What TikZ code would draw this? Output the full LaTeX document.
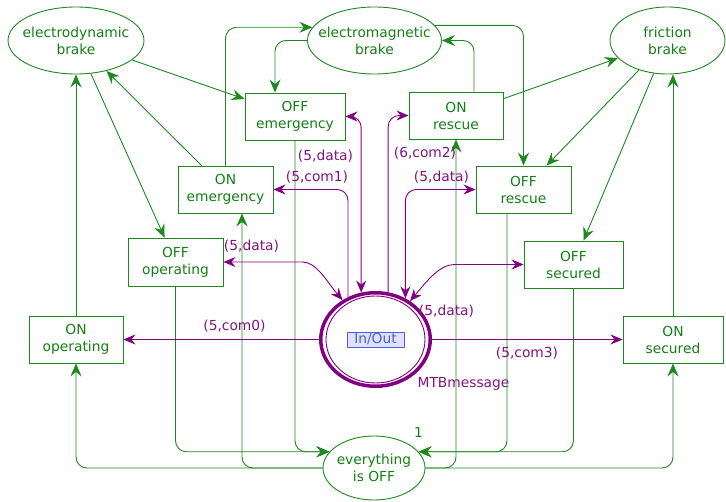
\documentclass[tikz,border=0pt]{standalone}
\usepackage{fontspec}
\setmainfont{DejaVu Sans}
\usetikzlibrary{shapes.geometric,arrows.meta}
\definecolor{gline}{RGB}{30,136,30}
\definecolor{gtext}{RGB}{20,128,20}
\definecolor{parc}{RGB}{128,0,128}
\definecolor{ptext}{RGB}{128,20,128}
\definecolor{iofill}{RGB}{222,226,255}
\definecolor{ioline}{RGB}{80,96,224}
\definecolor{iotext}{RGB}{80,96,200}
\begin{document}
\begin{tikzpicture}[x=1pt,y=1pt,
  font=\fontsize{13.8pt}{17pt}\selectfont,
  place/.style={ellipse, draw=gline, line width=0.9pt, inner sep=0pt},
  trans/.style={rectangle, draw=gline, line width=0.9pt, text=gtext, align=center, inner sep=0pt},
  garr/.style={draw=gline, line width=0.9pt, rounded corners=11pt,
    -{Stealth[length=13pt,width=11pt,inset=4.5pt]}},
  parr/.style={draw=parc, line width=0.9pt, rounded corners=11pt,
    -{Stealth[length=12pt,width=10pt,inset=4pt]}},
  pboth/.style={draw=parc, line width=0.9pt, rounded corners=11pt,
    {Stealth[length=12pt,width=10pt,inset=4pt]}-{Stealth[length=12pt,width=10pt,inset=4pt]}},
  plab/.style={text=ptext, inner sep=0pt},
  ptitle/.style={text=gtext, align=center}]

\useasboundingbox (0,0) rectangle (726,-502);

% brake places
\node[place, minimum width=136pt, minimum height=67pt,
  label={[ptitle]center:electrodynamic\\brake}] (edb) at (76,-40.5) {};
\node[place, minimum width=134pt, minimum height=67pt,
  label={[ptitle]center:electromagnetic\\brake}] (emb) at (374.5,-40.5) {};
\node[place, minimum width=115pt, minimum height=67pt,
  label={[ptitle]center:friction\\brake}] (fb) at (667.5,-40.5) {};
\node[place, minimum width=102pt, minimum height=64pt,
  label={[ptitle]center:everything\\is OFF}] (eio) at (374,-468) {};

% transitions
\node[trans, minimum width=100pt, minimum height=47pt] (OFFem) at (295,-116.5) {OFF\\emergency};
\node[trans, minimum width=95pt, minimum height=47pt] (ONem) at (225.5,-189.5) {ON\\emergency};
\node[trans, minimum width=95pt, minimum height=48pt] (OFFop) at (175.5,-262) {OFF\\operating};
\node[trans, minimum width=94pt, minimum height=47pt] (ONop) at (76,-339.5) {ON\\operating};
\node[trans, minimum width=94pt, minimum height=47pt] (ONres) at (456,-115.5) {ON\\rescue};
\node[trans, minimum width=95pt, minimum height=47pt] (OFFres) at (523.5,-189.5) {OFF\\rescue};
\node[trans, minimum width=99pt, minimum height=47pt] (OFFsec) at (573.5,-264.5) {OFF\\secured};
\node[trans, minimum width=100pt, minimum height=47pt] (ONsec) at (673,-339.5) {ON\\secured};

% message port place
\node[ellipse, draw=parc, line width=3.5pt, minimum width=109.5pt, minimum height=93.5pt,
  inner sep=0pt] (io) at (375.5,-339.5) {};
\draw[parc, line width=0.9pt] (io.center) ellipse [x radius=49.5pt, y radius=43.5pt];
\node[draw=ioline, fill=iofill, text=iotext, line width=0.8pt, minimum width=57pt,
  minimum height=15pt, inner sep=0pt] (iolab) at (io.center) {In/Out};
\node[plab] (iotype) at (463.5,-384) {MTBmessage};
\node[text=gtext, inner sep=0pt] (init) at (418.5,-432) {1};

% green arcs between brakes and transitions
\draw[garr] (edb) -- (OFFem);
\draw[garr] (ONem) -- (edb);
\draw[garr] (edb) -- (OFFop);
\draw[garr] (ONop) -- (edb);
\draw[garr] (ONem.north) |- (emb.168);
\draw[garr] (emb.west) -| ([xshift=-20pt]OFFem.north);
\draw[garr] ([xshift=18pt]ONres.north) |- (emb.east);
\draw[garr] (emb.14) -| (OFFres.north);
\draw[garr] (ONres) -- (fb);
\draw[garr] (fb) -- (OFFres);
\draw[garr] (fb) -- (OFFsec);
\draw[garr] (ONsec.north) -- (ONsec.north |- fb.south);

% green arcs around "everything is OFF"
\draw[garr] (eio.west) -| (ONop.south);
\draw[garr] (eio.east) -| (ONsec.south);
\draw[garr] (eio.west) -| ([xshift=16.5pt]ONem.south);
\draw[garr] (eio.east) -| (ONres.south);
\draw[garr] (OFFop.south) |- (eio.160);
\draw[garr] (OFFem.south) |- (eio.160);
\draw[garr] ([xshift=-16.5pt]OFFres.south) |- (eio.20);
\draw[garr] (OFFsec.south) |- (eio.20);

% purple arcs to and from the message port
\draw[parr] (io) -- (ONop);
\draw[parr] (io) -- (ONsec);
\draw[pboth] (OFFop.east) -- ([xshift=68pt]OFFop.east) to[out=0,in=130] (io.130);
\draw[parr] (io.123) |- (ONem.east);
\draw[pboth] (OFFem.east) -| (io.107);
\draw[parr] (io.75) |- (ONres.west);
\draw[pboth] (io.54.5) |- (OFFres.west);
\draw[pboth] (OFFsec.west) -- ([xshift=-58pt]OFFsec.west) to[out=180,in=50] (io.48);

% arc inscriptions
\node[plab] (l0) at (234.5,-326) {(5,com0)};
\node[plab] (l3) at (527,-353) {(5,com3)};
\node[plab] (ld1) at (251.5,-246) {(5,data)};
\node[plab] (l1) at (317,-177) {(5,com1)};
\node[plab] (ld2) at (325.5,-156) {(5,data)};
\node[plab] (l2) at (425,-153) {(6,com2)};
\node[plab] (ld3) at (441.5,-177) {(5,data)};
\node[plab] (ld4) at (446.5,-311) {(5,data)};
\end{tikzpicture}
\end{document}
